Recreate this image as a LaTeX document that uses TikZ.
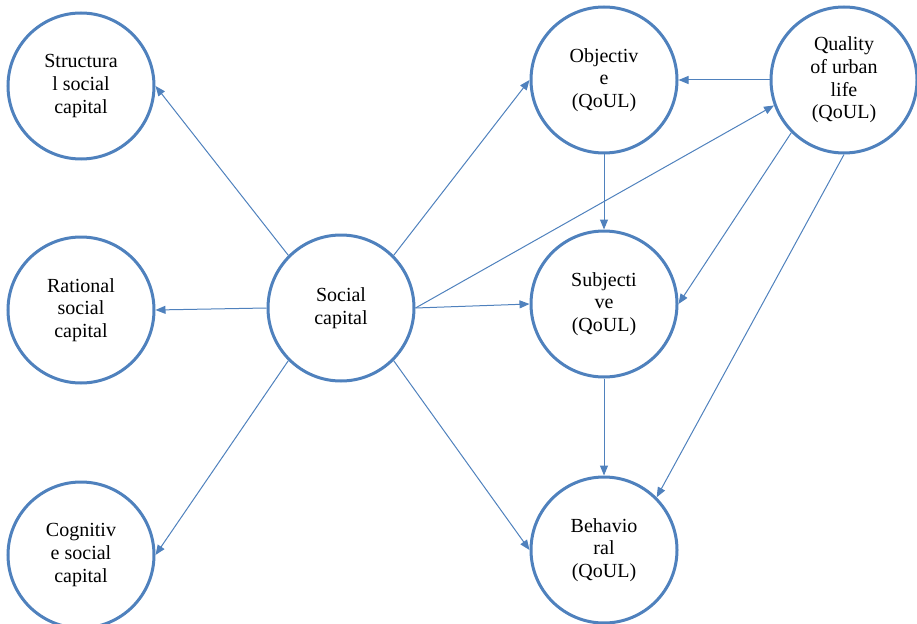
\documentclass[tikz,border=0pt]{standalone}
\usepackage{fontspec}
\setmainfont{Liberation Serif}
\usetikzlibrary{arrows.meta}
\definecolor{wordblue}{RGB}{79,129,189}
\tikzset{
  var/.style={circle, draw=wordblue, line width=2.25pt, fill=white,
    minimum size=109.5pt, inner sep=0pt, align=center,
    font=\fontsize{15}{17}\selectfont},
  link/.style={->, draw=wordblue, line width=0.75pt},
  >={Triangle[length=7.5pt,width=6pt]}
}
\begin{document}
\begin{tikzpicture}[x=0.75pt, y=-0.75pt]
    \useasboundingbox (0,0) rectangle (917,624);
    \node[var] (soc)  at (341,308)                    {Social\\capital};
    \node[var] (str)  at ([shift={(-260,-222)}] soc)  {Structura\\l social\\capital};
    \node[var] (rat)  at ([shift={(-260,2)}]    soc)  {Rational\\social\\capital};
    \node[var] (cog)  at ([shift={(-260,247)}]  soc)  {Cognitiv\\e social\\capital};
    \node[var] (obj)  at ([shift={(263,-228)}]  soc)  {Objectiv\\e\\(QoUL)};
    \node[var] (qual) at ([shift={(240,0)}]     obj)  {\fontsize{15}{14.5}\selectfont Quality\\of urban\\life\\(QoUL)};
    \node[var] (subj) at ([shift={(0,224)}]     obj)  {Subjecti\\ve\\(QoUL)};
    \node[var] (beh)  at ([shift={(0,246)}]     subj) {Behavio\\ral\\(QoUL)};
    \draw [link] (soc.north west) to (str.east);
    \draw [link] (soc.west)       to (rat.east);
    \draw [link] (soc.south west) to (cog.east);
    \draw [link] (soc.north east) to (obj.west);
    \draw [link] (soc.east)       to (qual.200);
    \draw [link] (soc.east)       to (subj.west);
    \draw [link] (soc.south east) to (beh.west);
    \draw [link] (qual.west)       to (obj.east);
    \draw [link] (obj.south)       to (subj.north);
    \draw [link] (qual.south west) to (subj.east);
    \draw [link] (qual.south)      to (beh.north east);
    \draw [link] (subj.south)      to (beh.north);
  \end{tikzpicture}
\end{document}
